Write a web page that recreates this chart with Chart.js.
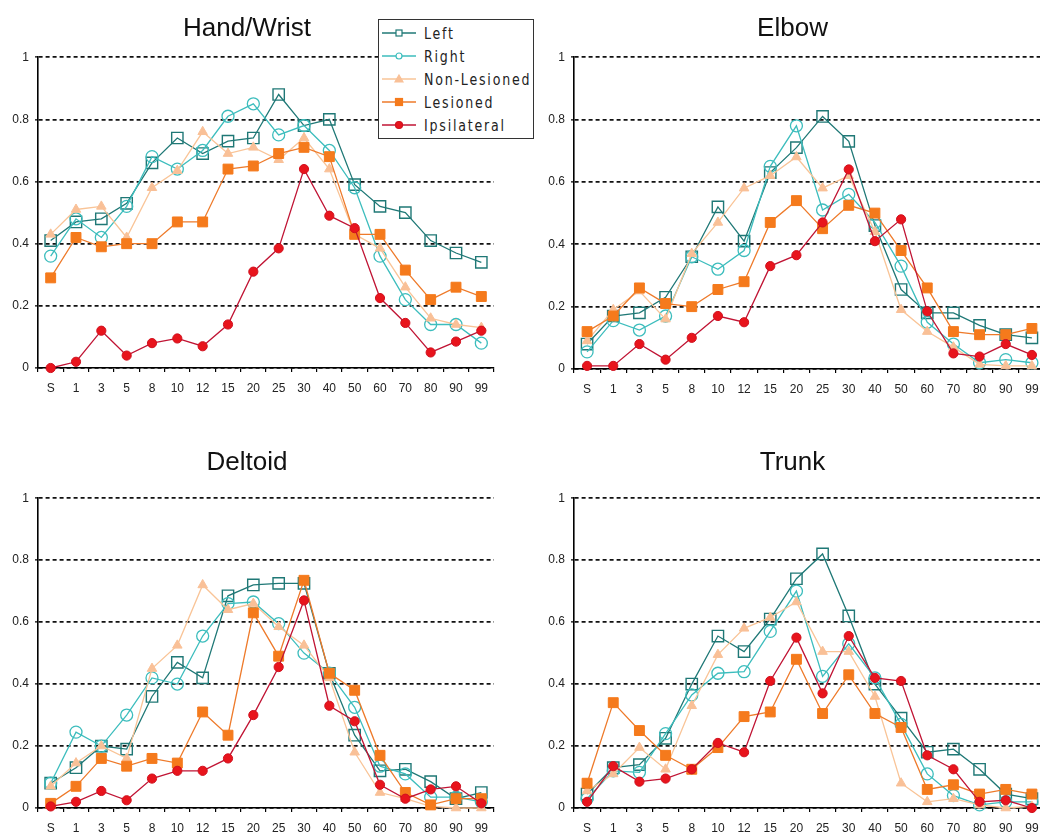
<!DOCTYPE html>
<html>
<head>
<meta charset="utf-8">
<script src="https://cdn.jsdelivr.net/npm/chart.js@4.4.1/dist/chart.umd.min.js"></script>
<style>
  html, body { margin: 0; padding: 0; background: #fff; overflow: hidden; width: 1040px; height: 836px; }
  .panel { position: absolute; }
  #legend {
    position: absolute; left: 378px; top: 19px; width: 154px; height: 118px;
    border: 1.5px solid #333; background: #fff;
    font-family: "DejaVu Sans Condensed", "DejaVu Sans", sans-serif;
    font-size: 14px; letter-spacing: 1.8px; color: #222; white-space: nowrap;
  }
  #legend .row { position: absolute; left: 0; height: 20px; display: flex; align-items: center; }
  #legend svg { display: block; margin-left: 3px; margin-right: 8px; }
  #legend span { display: inline-block; transform: scaleY(1.18); transform-origin: 0 50%; }
</style>
</head>
<body>
<canvas id="c1" class="panel"></canvas>
<canvas id="c2" class="panel"></canvas>
<canvas id="c3" class="panel"></canvas>
<canvas id="c4" class="panel"></canvas>
<div id="legend"></div>
<script>
// Age-band categories along the horizontal axis
const categories = ['S','1','3','5','8','10','12','15','20','25','30','40','50','60','70','80','90','99'];
const seriesNames = ['Left','Right','Non-Lesioned','Lesioned','Ipsilateral'];
const yTicks = [0, 0.2, 0.4, 0.6, 0.8, 1];

// Hand/Wrist
const handLeft    = [0.41,0.47,0.48,0.53,0.66,0.74,0.69,0.73,0.74,0.88,0.78,0.80,0.59,0.52,0.50,0.41,0.37,0.34];
const handRight   = [0.36,0.48,0.42,0.52,0.68,0.64,0.70,0.81,0.85,0.75,0.78,0.70,0.58,0.36,0.22,0.14,0.14,0.08];
const handNonLes  = [0.43,0.51,0.52,0.42,0.58,0.635,0.76,0.69,0.71,0.67,0.74,0.64,0.43,0.385,0.26,0.16,0.14,0.13];
const handLes     = [0.29,0.42,0.39,0.40,0.40,0.47,0.47,0.64,0.65,0.69,0.71,0.68,0.43,0.43,0.315,0.22,0.26,0.23];
const handIpsi    = [0.00,0.02,0.12,0.04,0.08,0.095,0.07,0.14,0.31,0.385,0.64,0.49,0.45,0.225,0.145,0.05,0.085,0.12];

// Elbow
const elbowLeft   = [0.08,0.17,0.18,0.23,0.36,0.52,0.41,0.63,0.71,0.81,0.73,0.46,0.255,0.18,0.18,0.14,0.11,0.10];
const elbowRight  = [0.055,0.155,0.125,0.17,0.36,0.32,0.38,0.65,0.78,0.51,0.56,0.47,0.33,0.15,0.08,0.02,0.03,0.02];
const elbowNonLes = [0.09,0.19,0.25,0.16,0.37,0.47,0.58,0.62,0.68,0.58,0.62,0.44,0.19,0.12,0.07,0.015,0.01,0.01];
const elbowLes    = [0.12,0.17,0.26,0.21,0.20,0.255,0.28,0.47,0.54,0.45,0.525,0.50,0.38,0.26,0.12,0.11,0.11,0.13];
const elbowIpsi   = [0.01,0.01,0.08,0.03,0.10,0.17,0.15,0.33,0.365,0.47,0.64,0.41,0.48,0.185,0.05,0.04,0.08,0.045];

// Deltoid
const deltLeft    = [0.08,0.13,0.20,0.19,0.36,0.47,0.42,0.685,0.72,0.725,0.725,0.435,0.235,0.12,0.125,0.085,0.03,0.05];
const deltRight   = [0.08,0.245,0.20,0.30,0.42,0.40,0.555,0.66,0.665,0.595,0.50,0.435,0.325,0.135,0.11,0.035,0.035,0.02];
const deltNonLes  = [0.07,0.145,0.20,0.16,0.45,0.525,0.72,0.64,0.66,0.585,0.525,0.42,0.18,0.05,0.03,0.005,0.0,0.0];
const deltLes     = [0.015,0.07,0.16,0.135,0.16,0.145,0.31,0.235,0.63,0.49,0.735,0.435,0.38,0.17,0.05,0.01,0.03,0.03];
const deltIpsi    = [0.005,0.02,0.055,0.025,0.095,0.12,0.12,0.16,0.30,0.455,0.67,0.33,0.28,0.075,0.03,0.06,0.07,0.015];

// Trunk
const trunkLeft   = [0.045,0.13,0.14,0.225,0.40,0.555,0.505,0.61,0.74,0.82,0.62,0.40,0.29,0.18,0.19,0.125,0.045,0.03];
const trunkRight  = [0.03,0.12,0.115,0.24,0.365,0.435,0.44,0.57,0.70,0.425,0.53,0.42,0.27,0.11,0.04,0.01,0.02,0.02];
const trunkNonLes = [0.055,0.11,0.195,0.125,0.33,0.495,0.58,0.615,0.665,0.505,0.505,0.36,0.08,0.02,0.03,0.01,0.0,0.005];
const trunkLes    = [0.08,0.34,0.25,0.17,0.125,0.195,0.295,0.31,0.48,0.305,0.43,0.305,0.26,0.06,0.075,0.045,0.06,0.045];
const trunkIpsi   = [0.02,0.135,0.085,0.095,0.125,0.21,0.18,0.41,0.55,0.37,0.555,0.42,0.41,0.17,0.125,0.02,0.025,0.0];

// Visual style of each series (line colour, marker shape and fill)
const styles = [
  { line: '#1f7876', point: 'rect',     radius: 8,   fill: 'rgba(255,255,255,0)', border: '#1f7876', bw: 1.4 },
  { line: '#3cbdbd', point: 'circle',   radius: 6,   fill: 'rgba(255,255,255,0)', border: '#3cbdbd', bw: 1.3 },
  { line: '#f9c497', point: 'triangle', radius: 5.5, fill: '#f9c097',             border: '#f9c097', bw: 1 },
  { line: '#ee7a2a', point: 'rect',     radius: 7,   fill: '#f57a1c',             border: '#f57a1c', bw: 1 },
  { line: '#c01434', point: 'circle',   radius: 4.6, fill: '#e8141c',             border: '#d0101e', bw: 1 }
];

const tickFont = { family: 'Liberation Sans, Arial, sans-serif', size: 12 };

function buildDatasets(values) {
  return values.map((vals, i) => {
    const s = styles[i];
    return {
      label: seriesNames[i],
      data: vals,
      borderColor: s.line,
      borderWidth: 1.3,
      pointStyle: s.point,
      pointRadius: s.radius,
      pointBackgroundColor: s.fill,
      pointBorderColor: s.border,
      pointBorderWidth: s.bw,
      tension: 0,
      clip: false,
      order: values.length - 1 - i   // later series drawn on top
    };
  });
}

function makePanel(id, box, title, values) {
  const cv = document.getElementById(id);
  cv.style.left = box.left + 'px';
  cv.style.top = box.top + 'px';
  cv.style.width = box.width + 'px';
  cv.style.height = box.height + 'px';
  cv.width = box.width;
  cv.height = box.height;
  return new Chart(cv, {
    type: 'line',
    data: { labels: categories, datasets: buildDatasets(values) },
    options: {
      responsive: false,
      animation: false,
      layout: { padding: { left: 0, right: box.padRight, top: 0, bottom: 0 } },
      plugins: {
        legend: { display: false },
        tooltip: { enabled: false },
        title: {
          display: true,
          text: title,
          color: '#111',
          font: { family: 'Liberation Sans, Arial, sans-serif', size: 26, weight: 'normal', lineHeight: 1.2 },
          padding: { top: box.titleTop, bottom: box.titleBottom }
        }
      },
      scales: {
        x: {
          offset: true,
          grid: { display: true, offset: true, drawOnChartArea: false, drawTicks: true, tickLength: 4, color: '#000', lineWidth: 1.2 },
          border: { display: true, color: '#000', width: 1.6 },
          ticks: { autoSkip: false, maxRotation: 0, padding: 9, color: '#222', font: tickFont },
          afterFit(scale) { scale.height = 32; }
        },
        y: {
          min: 0, max: 1,
          afterBuildTicks(scale) { scale.ticks = yTicks.map(v => ({ value: v })); },
          grid: { color: '#111', lineWidth: 1.7, tickLength: 3, tickBorderDash: [], tickColor: '#000', tickWidth: 1.3 },
          // dashed horizontal gridlines; the axis line itself stays solid
          border: { display: true, color: '#000', width: 1.6, dash: [4, 3] },
          ticks: { padding: 6, color: '#222', font: tickFont, callback: v => String(v) },
          afterFit(scale) { scale.width = box.axisWidth; }
        }
      }
    }
  });
}

makePanel('c1', { left: 0, top: 0, width: 580, height: 400, padRight: 86, axisWidth: 38, titleTop: 13, titleBottom: 13 }, 'Hand/Wrist',
  [handLeft, handRight, handNonLes, handLes, handIpsi]);
makePanel('c2', { left: 540, top: 0, width: 546, height: 401, padRight: 41, axisWidth: 34, titleTop: 13, titleBottom: 13 }, 'Elbow',
  [elbowLeft, elbowRight, elbowNonLes, elbowLes, elbowIpsi]);
makePanel('c3', { left: 0, top: 430, width: 532, height: 410, padRight: 38, axisWidth: 38, titleTop: 17, titleBottom: 20 }, 'Deltoid',
  [deltLeft, deltRight, deltNonLes, deltLes, deltIpsi]);
makePanel('c4', { left: 540, top: 430, width: 545, height: 410, padRight: 40, axisWidth: 34, titleTop: 17, titleBottom: 20 }, 'Trunk',
  [trunkLeft, trunkRight, trunkNonLes, trunkLes, trunkIpsi]);

// Legend box: line sample with marker, then series name
const legend = document.getElementById('legend');
const NS = 'http://www.w3.org/2000/svg';
seriesNames.forEach((name, i) => {
  const s = styles[i];
  const row = document.createElement('div');
  row.className = 'row';
  row.style.top = (3 + i * 23) + 'px';
  const svg = document.createElementNS(NS, 'svg');
  svg.setAttribute('width', '34'); svg.setAttribute('height', '14');
  const ln = document.createElementNS(NS, 'line');
  ln.setAttribute('x1', '0'); ln.setAttribute('x2', '34'); ln.setAttribute('y1', '7'); ln.setAttribute('y2', '7');
  ln.setAttribute('stroke', s.line); ln.setAttribute('stroke-width', '1.5');
  svg.appendChild(ln);
  let m;
  if (s.point === 'rect') {
    const sz = i === 0 ? 6 : 7;
    m = document.createElementNS(NS, 'rect');
    m.setAttribute('x', 17 - sz / 2); m.setAttribute('y', 7 - sz / 2);
    m.setAttribute('width', sz); m.setAttribute('height', sz);
  } else if (s.point === 'circle') {
    m = document.createElementNS(NS, 'circle');
    m.setAttribute('cx', '17'); m.setAttribute('cy', '7'); m.setAttribute('r', i === 1 ? 3 : 3.5);
  } else {
    m = document.createElementNS(NS, 'polygon');
    m.setAttribute('points', '17,3 21,10 13,10');
  }
  m.setAttribute('fill', s.fill === 'rgba(255,255,255,0)' ? '#fff' : s.fill);
  m.setAttribute('stroke', s.border);
  m.setAttribute('stroke-width', '1.2');
  svg.appendChild(m);
  const txt = document.createElement('span');
  txt.textContent = name;
  row.appendChild(svg);
  row.appendChild(txt);
  legend.appendChild(row);
});
</script>
</body>
</html>
